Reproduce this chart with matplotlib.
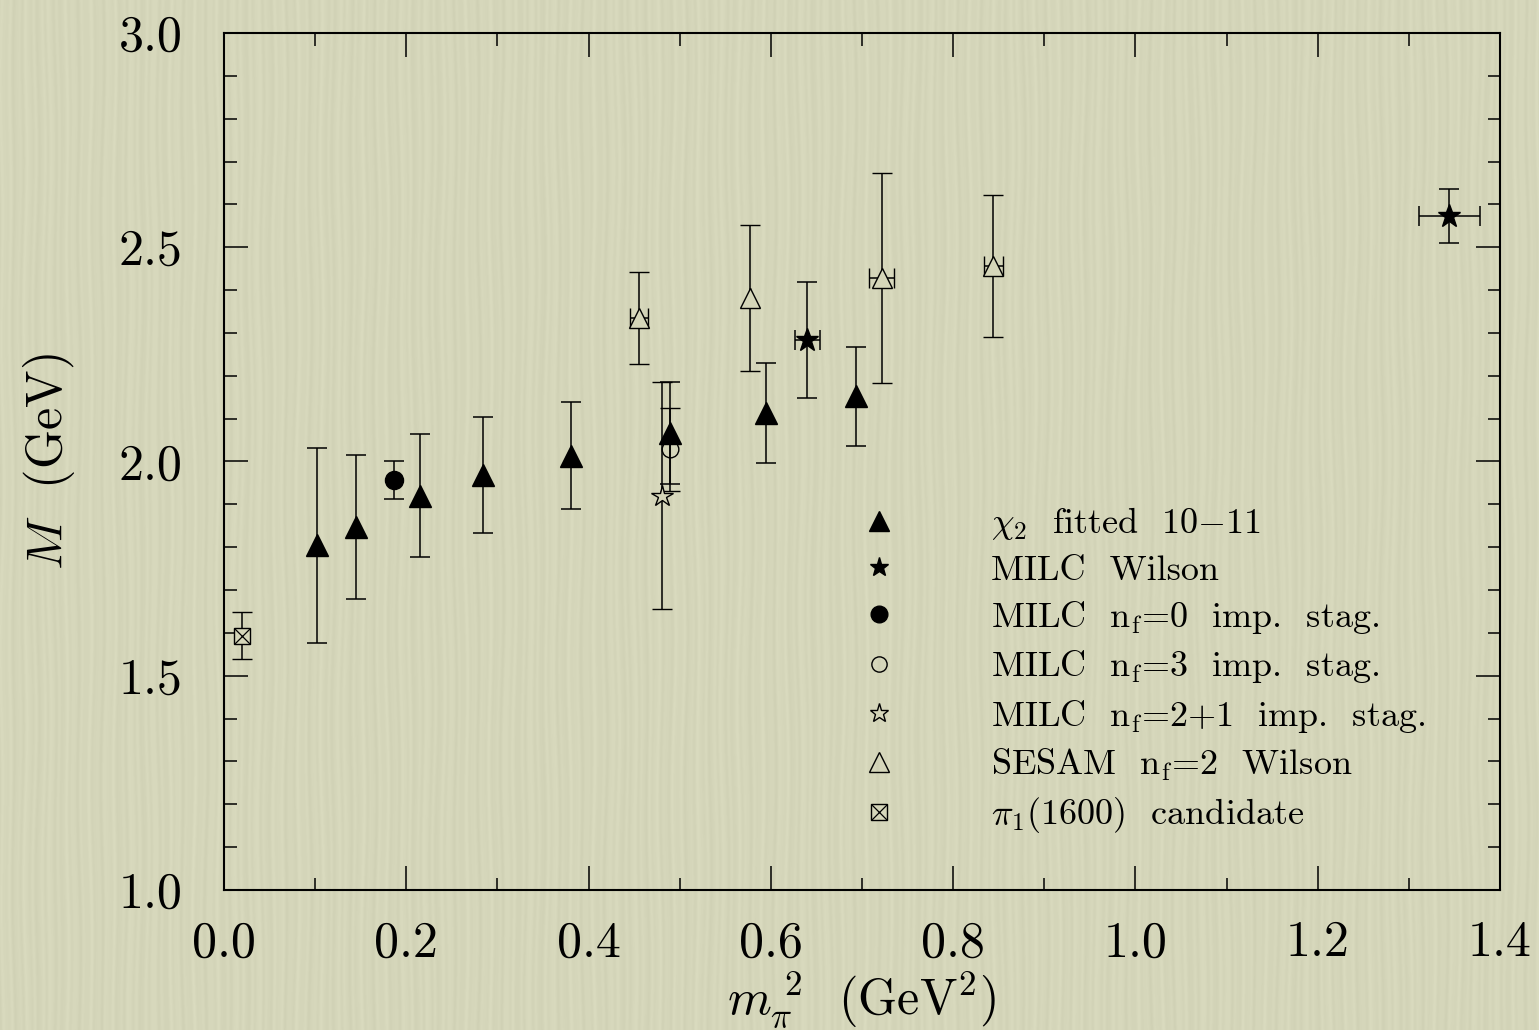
import matplotlib
matplotlib.use("Agg")
import matplotlib.pyplot as plt
from matplotlib.lines import Line2D
from matplotlib.ticker import MultipleLocator, FormatStrFormatter
import numpy as np

plt.rcParams['font.family'] = ['cmr10', 'DejaVu Serif']
plt.rcParams['mathtext.fontset'] = 'cm'
plt.rcParams['axes.formatter.use_mathtext'] = True

# ---- data ----
chi2_x = [0.102, 0.145, 0.215, 0.284, 0.381, 0.489, 0.595, 0.693]
chi2_y = [1.804, 1.847, 1.920, 1.969, 2.013, 2.067, 2.114, 2.152]
chi2_err = [0.228, 0.168, 0.144, 0.135, 0.125, 0.119, 0.117, 0.116]

milcw_x = [0.640, 1.3445]
milcw_y = [2.283, 2.572]
milcw_yerr = [0.135, 0.063]
milcw_xerr = [0.0137, 0.0333]

milc0_x = [0.187]
milc0_y = [1.957]
milc0_err = [0.045]

milc3_x = [0.4895]
milc3_y = [2.029]
milc3_err = [0.097]

milc21_x = [0.4806]
milc21_y = [1.920]
milc21_err = [0.265]

sesam_x = [0.455, 0.5775, 0.7216, 0.8438]
sesam_y = [2.335, 2.382, 2.429, 2.456]
sesam_yerr = [0.107, 0.170, 0.245, 0.165]
sesam_xerr = [0.010, 0.0, 0.0135, 0.0104]

pi1_x = [0.0198]
pi1_y = [1.593]
pi1_err = [0.055]

labels = [r'$\chi_2$  fitted  10$-$11',
          'MILC  Wilson',
          r'MILC  n$_{\mathrm{f}}$=0  imp.  stag.',
          r'MILC  n$_{\mathrm{f}}$=3  imp.  stag.',
          r'MILC  n$_{\mathrm{f}}$=2+1  imp.  stag.',
          r'SESAM  n$_{\mathrm{f}}$=2  Wilson',
          r'$\pi_1$(1600)  candidate']

bg = '#d5d6b9'
W, H = 1539, 1030
fig = plt.figure(figsize=(W / 100, H / 100), dpi=100, facecolor=bg)

# decorative paper texture (deterministic, mostly vertical streaks)
bax = fig.add_axes([0, 0, 1, 1], zorder=-10)
xx = np.arange(W)[None, :]
yy = np.arange(H)[:, None]
phase = xx + 1.2 * np.sin(yy / 45.0 + xx / 31.0) + 0.8 * np.sin(yy / 90.0 - xx / 13.0)
tex = (0.5 * np.sin(phase * 2 * np.pi / 8.0) + 0.3 * np.sin(phase * 2 * np.pi / 21.0)
       + 0.2 * np.sin(phase * 2 * np.pi / 4.7))
base = np.array([213, 214, 186]) / 255.0
img = np.clip(base[None, None, :] + 0.02 * tex[:, :, None], 0, 1)
bax.imshow(img, aspect='auto', interpolation='bilinear')
bax.axis('off')

ax = fig.add_axes([224 / W, 140 / H, 1276 / W, 857 / H])
ax.set_facecolor('none')

eb = dict(ecolor='black', elinewidth=1.1, capsize=7, capthick=1.1, linestyle='none')

ax.errorbar(chi2_x, chi2_y, yerr=chi2_err, marker='^', ms=16, mfc='black', mec='black', **eb)
ax.errorbar(milcw_x, milcw_y, yerr=milcw_yerr, xerr=milcw_xerr, marker='*', ms=17, mfc='black', mec='black', **eb)
ax.errorbar(milc0_x, milc0_y, yerr=milc0_err, marker='o', ms=13, mfc='black', mec='black', **eb)
ax.errorbar(milc3_x, milc3_y, yerr=milc3_err, marker='o', ms=12, mfc='none', mec='black', mew=1.0, **eb)
ax.errorbar(milc21_x, milc21_y, yerr=milc21_err, marker='*', ms=16, mfc=bg, mec='black', mew=1.0, **eb)
ax.errorbar(sesam_x, sesam_y, yerr=sesam_yerr, xerr=sesam_xerr, marker='^', ms=15, mfc=bg, mec='black', mew=1.0, **eb)
ax.errorbar(pi1_x, pi1_y, yerr=pi1_err, marker='s', ms=12, mfc=bg, mec='black', mew=1.0, **eb)
ax.plot(pi1_x, pi1_y, linestyle='none', marker='x', ms=12, mec='black', mew=0.9, zorder=3)

ax.set_xlim(0.0, 1.4)
ax.set_ylim(1.0, 3.0)
ax.xaxis.set_major_locator(MultipleLocator(0.2))
ax.xaxis.set_minor_locator(MultipleLocator(0.1))
ax.yaxis.set_major_locator(MultipleLocator(0.5))
ax.yaxis.set_minor_locator(MultipleLocator(0.1))
ax.xaxis.set_major_formatter(FormatStrFormatter('%.1f'))
ax.yaxis.set_major_formatter(FormatStrFormatter('%.1f'))
ax.tick_params(which='both', direction='in', top=True, right=True, width=1.1, colors='black')
ax.tick_params(which='major', length=17, labelsize=36)
ax.tick_params(which='minor', length=9)
ax.tick_params(axis='x', which='major', pad=22)
ax.tick_params(axis='y', which='major', pad=30)
for s in ax.spines.values():
    s.set_linewidth(1.5)

ax.set_xlabel(r'$m_{\pi}^{\ 2}$  (GeV$^2$)', fontsize=36, labelpad=2)
ax.set_ylabel(r'$M$  (GeV)', fontsize=36, labelpad=30)

h_tri = Line2D([], [], ls='none', marker='^', ms=14, mfc='black', mec='black')
h_star = Line2D([], [], ls='none', marker='*', ms=14, mfc='black', mec='black')
h_dot = Line2D([], [], ls='none', marker='o', ms=12, mfc='black', mec='black')
h_circ = Line2D([], [], ls='none', marker='o', ms=11, mfc='none', mec='black', mew=1.0)
h_ostar = Line2D([], [], ls='none', marker='*', ms=14, mfc='none', mec='black', mew=1.0)
h_otri = Line2D([], [], ls='none', marker='^', ms=14, mfc='none', mec='black', mew=1.0)
h_sq = Line2D([], [], ls='none', marker='s', ms=11, mfc='none', mec='black', mew=1.0)
h_x = Line2D([], [], ls='none', marker='x', ms=11, mec='black', mew=0.9)
handles = [h_tri, h_star, h_dot, h_circ, h_ostar, h_otri, (h_sq, h_x)]

ax.legend(handles, labels, loc='upper left', bbox_to_anchor=(0.499, 0.449), frameon=False,
          fontsize=26, handlelength=1.0, handletextpad=2.6, labelspacing=0.34,
          borderaxespad=0, borderpad=0)

fig.savefig('out.png', dpi=100, facecolor=bg)
